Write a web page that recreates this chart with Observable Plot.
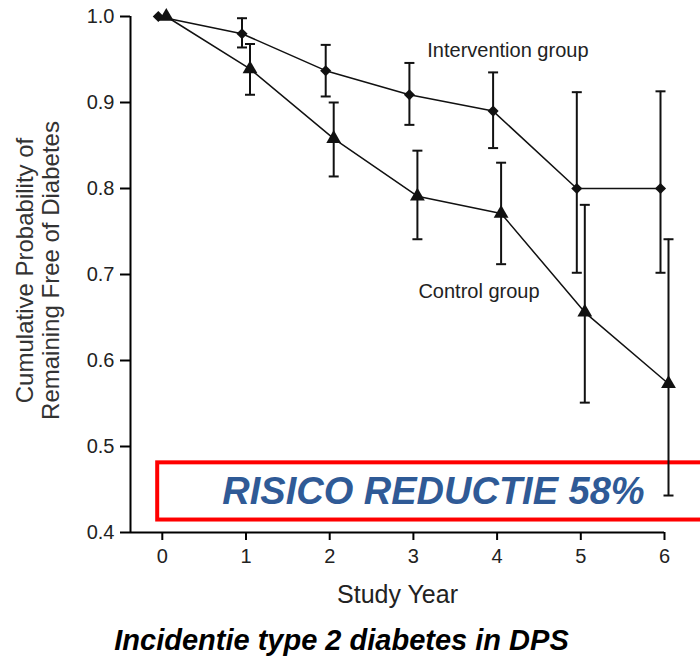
<!DOCTYPE html>
<html>
<head>
<meta charset="utf-8">
<script src="https://cdn.jsdelivr.net/npm/d3@7"></script>
<script src="https://cdn.jsdelivr.net/npm/@observablehq/plot@0.6"></script>
<style>
  html, body { margin: 0; padding: 0; background: #fff; overflow: hidden; }
  #chart svg { display: block; }
  #caption {
    width: 683px; text-align: center;
    font-family: "Liberation Sans", Arial, sans-serif;
    font-weight: bold; font-style: italic; font-size: 29px;
    line-height: 34px; padding-top: 8px; color: #000;
  }
</style>
</head>
<body>
<div id="chart"></div>
<div id="caption">Incidentie type 2 diabetes in DPS</div>
<script>
// ---- data ----
const years = [0, 1, 2, 3, 4, 5, 6];
const interventionMean = [1.0, 0.980, 0.937, 0.909, 0.890, 0.800, 0.800];
const interventionLow  = [null, 0.964, 0.907, 0.874, 0.847, 0.702, 0.702];
const interventionHigh = [null, 0.998, 0.967, 0.946, 0.935, 0.912, 0.913];
const controlMean = [1.0, 0.939, 0.858, 0.791, 0.771, 0.656, 0.573];
const controlLow  = [null, 0.909, 0.814, 0.741, 0.712, 0.551, 0.443];
const controlHigh = [null, 0.968, 0.900, 0.844, 0.830, 0.781, 0.741];
const xTicks = [0, 1, 2, 3, 4, 5, 6];
const yTicks = [0.4, 0.5, 0.6, 0.7, 0.8, 0.9, 1.0];
const seriesNames = ["Intervention group", "Control group"];
const boxText = "RISICO REDUCTIE 58%";
const yLabel = "Cumulative Probability of\nRemaining Free of Diabetes";
const xLabel = "Study Year";

const toRows = (name, mean, low, high) =>
  years.map((year, i) => ({series: name, year, mean: mean[i], low: low[i], high: high[i]}));
const intervention = toRows(seriesNames[0], interventionMean, interventionLow, interventionHigh);
const control = toRows(seriesNames[1], controlMean, controlLow, controlHigh);

const xMin = -0.38;
const ink = "#111";
const capSymbol = {draw(ctx) { ctx.moveTo(-5, 0); ctx.lineTo(5, 0); }};

const series = [
  {data: intervention, dx: -4, symbol: "diamond2", r: 5},
  {data: control, dx: 4, symbol: "triangle", r: 5.5}
];

const seriesMarks = series.flatMap(s => {
  const bars = s.data.filter(d => d.low != null);
  return [
    Plot.line(s.data, {x: "year", y: "mean", dx: s.dx, stroke: ink, strokeWidth: 1.5}),
    Plot.ruleX(bars, {x: "year", y1: "low", y2: "high", dx: s.dx, stroke: ink, strokeWidth: 2}),
    Plot.dot(bars, {x: "year", y: "low", dx: s.dx, symbol: capSymbol, r: 5, fill: "none", stroke: ink, strokeWidth: 2}),
    Plot.dot(bars, {x: "year", y: "high", dx: s.dx, symbol: capSymbol, r: 5, fill: "none", stroke: ink, strokeWidth: 2}),
    Plot.dot(s.data, {x: "year", y: "mean", dx: s.dx, symbol: s.symbol, r: s.r, fill: ink, stroke: "none"})
  ];
});

const chart = Plot.plot({
  width: 700,
  height: 615,
  marginLeft: 130,
  marginRight: 36,
  marginTop: 16,
  marginBottom: 83,
  style: {fontFamily: "'Liberation Sans', Arial, sans-serif", color: "#222", background: "#fff"},
  x: {domain: [xMin, 6], axis: null},
  y: {domain: [0.4, 1.0], axis: null},
  marks: [
    // annotation box
    Plot.rect([boxText], {x1: () => -0.055, x2: () => 7.2, y1: () => 0.4145, y2: () => 0.481,
      fill: "none", stroke: "#ff0000", strokeWidth: 4}),
    Plot.text([boxText], {x: () => 3.24, y: () => 0.4477, text: d => d, fontSize: 38,
      fontWeight: "bold", fontStyle: "italic", fill: "#2F5A96"}),
    // axes
    Plot.axisY({ticks: yTicks, tickFormat: d3.format(".1f"), tickSize: 10, tickPadding: 6,
      fontSize: 20, stroke: "#000", strokeWidth: 2, label: null}),
    Plot.axisX({ticks: xTicks, tickFormat: d3.format("d"), tickSize: 8, tickPadding: 8,
      fontSize: 20, stroke: "#000", strokeWidth: 2, label: null}),
    Plot.ruleX([xMin], {y1: 0.4, y2: 1.0, stroke: "#000", strokeWidth: 2}),
    Plot.ruleY([0.4], {x1: xMin, x2: 6, stroke: "#000", strokeWidth: 2}),
    Plot.text([xLabel], {frameAnchor: "bottom", dy: 62, lineAnchor: "middle", textAnchor: "middle",
      text: d => d, fontSize: 25, fill: "#222"}),
    Plot.text([yLabel], {frameAnchor: "left", dx: -93, dy: -4, rotate: -90, textAnchor: "middle",
      lineAnchor: "middle", text: d => d, fontSize: 24, lineHeight: 1.08, fill: "#333"}),
    // series
    ...seriesMarks,
    // series labels
    Plot.text([seriesNames[0]], {x: () => 3.166, y: () => 0.9605, text: d => d, textAnchor: "start",
      fontSize: 20, fill: "#222"}),
    Plot.text([seriesNames[1]], {x: () => 3.06, y: () => 0.680, text: d => d, textAnchor: "start",
      fontSize: 20, fill: "#222"})
  ]
});
document.getElementById("chart").appendChild(chart);
</script>
</body>
</html>
